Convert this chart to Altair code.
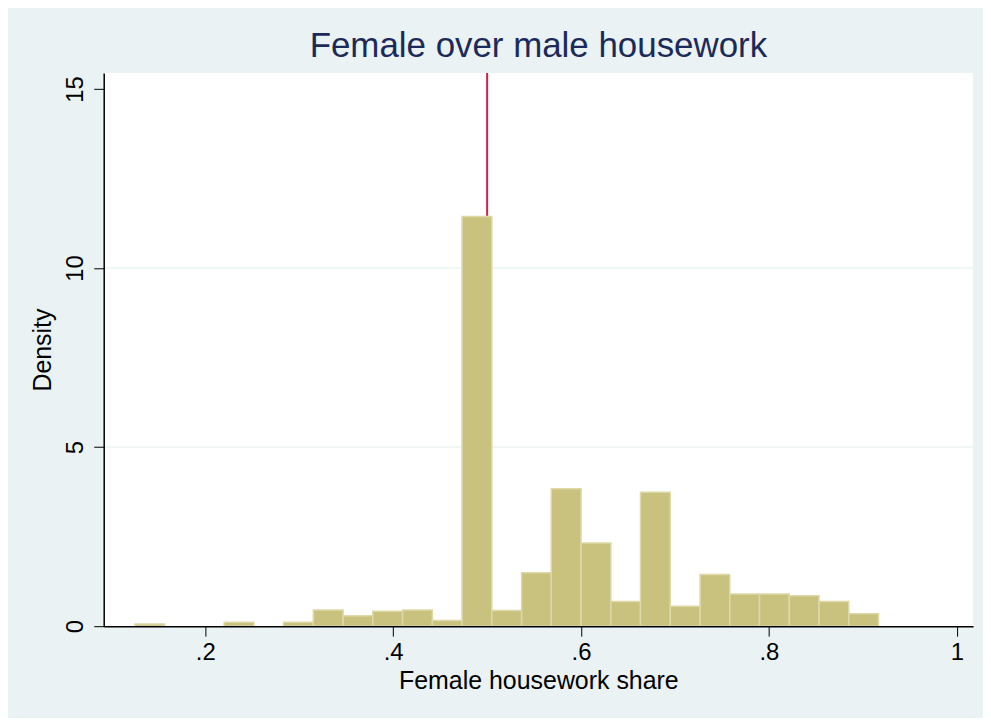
import altair as alt
import pandas as pd

# Histogram bin edges (26 edges -> 25 bins) and density heights
bin_edges = [0.1250, 0.1567, 0.1883, 0.2200, 0.2517, 0.2833, 0.3150, 0.3467,
             0.3783, 0.4100, 0.4417, 0.4733, 0.5050, 0.5367, 0.5683, 0.6000,
             0.6317, 0.6633, 0.6950, 0.7267, 0.7583, 0.7900, 0.8217, 0.8533,
             0.8850, 0.9167]
densities = [0.06, 0.0, 0.0, 0.11, 0.0, 0.11, 0.45, 0.29, 0.42, 0.45, 0.16,
             11.44, 0.44, 1.49, 3.84, 2.32, 0.69, 3.74, 0.56, 1.44, 0.90,
             0.90, 0.85, 0.69, 0.35]
x_ticks = [0.2, 0.4, 0.6, 0.8, 1.0]
y_ticks = [0, 5, 10, 15]
grid_values = [5, 10]
ref_line = [0.5]

bars = pd.DataFrame({
    "left": bin_edges[:-1],
    "right": bin_edges[1:],
    "density": densities,
})
bars = bars[bars["density"] > 0]

FONT = "Liberation Sans"
x_scale = alt.Scale(domain=[0.0918, 1.0173], nice=False, zero=False)
y_scale = alt.Scale(domain=[0, 15.45], nice=False)

x_axis = alt.Axis(
    values=x_ticks,
    labelExpr="datum.value == 1 ? '1' : replace(format(datum.value, '.1f'), '0.', '.')",
    title="Female housework share",
    grid=False, tickSize=10, tickColor="black", tickWidth=1,
    domainColor="black", domainWidth=1.5,
    labelFontSize=24, labelFont=FONT, labelColor="black", labelPadding=4,
    titleFontSize=25, titleFont=FONT, titleColor="black", titleFontWeight="normal",
    titlePadding=5, zindex=1,
)
y_axis = alt.Axis(
    values=y_ticks,
    title="Density",
    grid=False, tickSize=10, tickColor="black", tickWidth=1,
    domainColor="black", domainWidth=1.5,
    labelAngle=270, labelAlign="center", labelBaseline="alphabetic",
    labelFontSize=24, labelFont=FONT, labelColor="black", labelPadding=11,
    titleFontSize=25, titleFont=FONT, titleColor="black", titleFontWeight="normal",
    titlePadding=8, zindex=1,
)

grid = alt.Chart(pd.DataFrame({"g": grid_values})).mark_rule(
    color="#E6EEF0", strokeWidth=1
).encode(y=alt.Y("g:Q", scale=y_scale, axis=y_axis))

red = alt.Chart(pd.DataFrame({"x": ref_line})).mark_rule(
    color="#D21F4B", strokeWidth=2
).encode(x=alt.X("x:Q", scale=x_scale, axis=x_axis))

hist = alt.Chart(bars).mark_rect(
    color="#C9C27E", stroke="#DDD8A8", strokeWidth=1.5
).encode(
    x=alt.X("left:Q", scale=x_scale, axis=x_axis),
    x2="right:Q",
    y=alt.Y("density:Q", scale=y_scale, axis=y_axis),
    y2=alt.datum(0),
)

chart = alt.layer(grid, red, hist).properties(
    width=872,
    height=555,
    autosize=alt.AutoSizeParams(type="none"),
    padding={"left": 96, "top": 64, "right": 10, "bottom": 91},
    background="#EAF2F3",
    title=alt.TitleParams(
        "Female over male housework",
        font=FONT, fontSize=35, fontWeight="normal", color="#1C2A5A",
        anchor="middle", frame="group", offset=8,
    ),
).configure_view(fill="white", stroke=None)

chart.save("out.html", embed_options={"renderer": "svg", "actions": False})
